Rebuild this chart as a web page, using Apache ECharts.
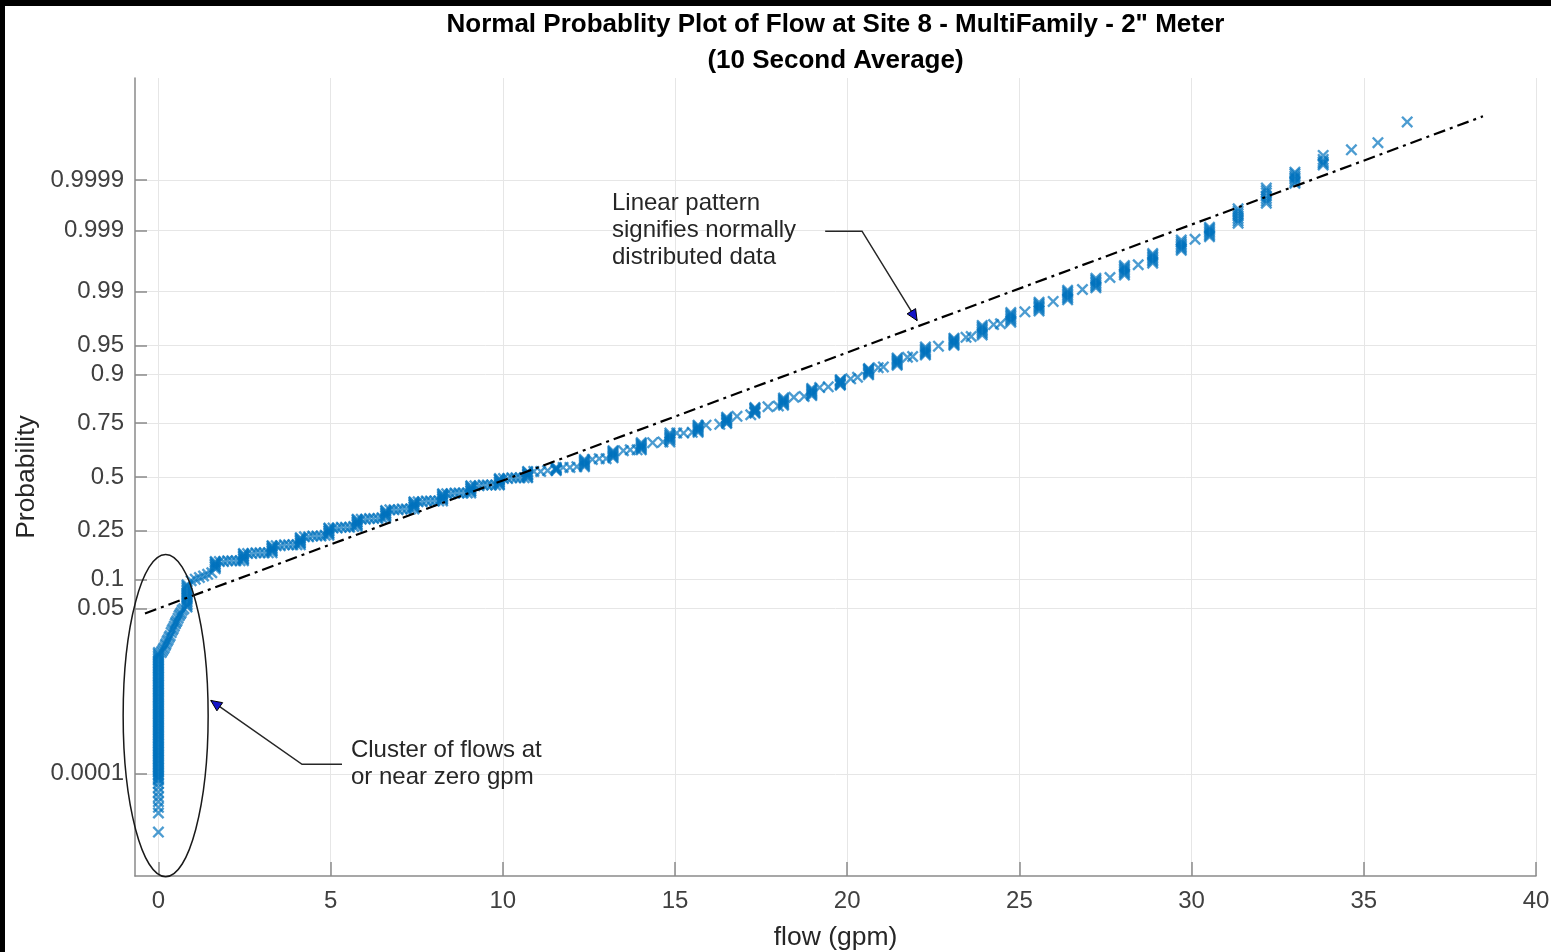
<!DOCTYPE html>
<html>
<head>
<meta charset="utf-8">
<title>Normal Probablity Plot of Flow at Site 8</title>
<script src="https://cdn.jsdelivr.net/npm/echarts/dist/echarts.min.js"></script>
<style>
  html, body { margin: 0; padding: 0; background: #000; width: 1551px; height: 952px; overflow: hidden; }
  #chart { position: absolute; left: 5px; top: 6px; width: 1546px; height: 946px; background: #fff; }
</style>
</head>
<body>
<div id="chart"></div>
<script>
// ---- axis ticks ----
const xTicks = [0, 5, 10, 15, 20, 25, 30, 35, 40];
const probTicks = ['0.0001', '0.05', '0.1', '0.25', '0.5', '0.75', '0.9', '0.95', '0.99', '0.999', '0.9999'];

// ---- observations ----
// Flow levels (gpm) where many 10-second averages coincide ...
const levelFlows = [
  0, 0.83, 1.65, 2.47, 3.30, 4.12, 4.95, 5.77, 6.60, 7.42, 8.25, 9.07, 9.90,
  10.72, 11.55, 12.37, 13.20, 14.02, 14.85, 15.67, 16.50, 17.32, 18.15, 18.97,
  19.80, 20.62, 21.45, 22.27, 23.10, 23.92, 24.75, 25.57, 26.40, 27.22, 28.05,
  28.87, 29.70, 30.52, 31.35, 32.17, 33.00, 33.82, 34.64, 35.41, 36.26
];
// ... and the standard normal quantiles of the readings at each level
const levelQuantiles = [
  [-4.45, -4.21, -4.14, -4.07, -4.01, -3.95, -3.89, -3.84,
   -3.80, -3.78, -3.76, -3.74, -3.72, -3.70, -3.68, -3.66, -3.64, -3.62, -3.60, -3.58,
   -3.56, -3.54, -3.52, -3.50, -3.48, -3.46, -3.44, -3.42, -3.40, -3.38, -3.36, -3.34,
   -3.32, -3.30, -3.28, -3.26, -3.24, -3.22, -3.20, -3.18, -3.16, -3.14, -3.12, -3.10,
   -3.08, -3.06, -3.04, -3.02, -3.00, -2.98, -2.96, -2.94, -2.92, -2.90, -2.88, -2.86,
   -2.84, -2.82, -2.80, -2.78, -2.76, -2.74, -2.72, -2.70, -2.68, -2.66, -2.64, -2.62,
   -2.60, -2.58, -2.56, -2.54, -2.52, -2.50, -2.48, -2.46, -2.44, -2.42, -2.40, -2.38,
   -2.36, -2.34, -2.32, -2.30, -2.28, -2.26, -2.24, -2.22, -2.20],
  [-1.63, -1.61, -1.59, -1.57, -1.55, -1.53, -1.51, -1.49, -1.47, -1.45, -1.43, -1.41, -1.39, -1.37, -1.35],
  [-1.15, -1.13, -1.12, -1.10, -1.09, -1.07, -1.06],
  [-1.05, -1.03, -1.02, -1.00, -0.99, -0.97, -0.96],
  [-0.95, -0.93, -0.92, -0.90, -0.89, -0.87, -0.86],
  [-0.85, -0.83, -0.82, -0.80, -0.79, -0.77, -0.76],
  [-0.73, -0.71, -0.70, -0.68, -0.67, -0.65, -0.64],
  [-0.62, -0.60, -0.59, -0.57, -0.56, -0.54, -0.53],
  [-0.51, -0.49, -0.48, -0.46, -0.45, -0.43, -0.42],
  [-0.40, -0.38, -0.37, -0.35, -0.34, -0.32, -0.31],
  [-0.30, -0.28, -0.27, -0.25, -0.24, -0.22, -0.21],
  [-0.20, -0.18, -0.17, -0.15, -0.14, -0.12, -0.11],
  [-0.10, -0.09, -0.07, -0.06, -0.04, -0.03, -0.02],
  [-0.01, 0.00, 0.02, 0.03, 0.04, 0.06, 0.07],
  [0.08, 0.09, 0.10, 0.11, 0.12],
  [0.13, 0.145, 0.16, 0.175, 0.19, 0.205, 0.22],
  [0.24, 0.255, 0.27, 0.285, 0.30, 0.315, 0.33],
  [0.34, 0.355, 0.37, 0.385, 0.40, 0.415, 0.43],
  [0.44, 0.46, 0.48, 0.495, 0.51, 0.53, 0.55],
  [0.56, 0.575, 0.59, 0.605, 0.62, 0.635, 0.65],
  [0.67, 0.68, 0.695, 0.71, 0.72, 0.735, 0.75],
  [0.80, 0.81, 0.82, 0.835, 0.85, 0.86, 0.87],
  [0.90, 0.915, 0.93, 0.945, 0.96, 0.975, 0.99],
  [1.02, 1.035, 1.05, 1.065, 1.08, 1.095, 1.11],
  [1.15, 1.16, 1.17, 1.185, 1.20, 1.21, 1.22],
  [1.28, 1.295, 1.31, 1.325, 1.34, 1.35, 1.36],
  [1.40, 1.415, 1.43, 1.445, 1.46, 1.475, 1.49],
  [1.53, 1.545, 1.56, 1.575, 1.59, 1.61, 1.63],
  [1.65, 1.665, 1.68, 1.695, 1.71, 1.725, 1.74],
  [1.78, 1.80, 1.82, 1.84, 1.86, 1.88, 1.90],
  [1.94, 1.96, 1.98, 2.00, 2.02, 2.04, 2.06],
  [2.08, 2.10, 2.12, 2.135, 2.15, 2.17, 2.19],
  [2.22, 2.24, 2.26, 2.28, 2.30, 2.32, 2.34],
  [2.37, 2.39, 2.41, 2.43, 2.45, 2.47, 2.49],
  [2.53, 2.55, 2.57, 2.59, 2.61, 2.63, 2.65],
  [2.68, 2.70, 2.72, 2.74, 2.76, 2.78, 2.80],
  [2.84, 2.86, 2.88, 2.90, 2.92, 2.945, 2.97],
  [3.01, 3.03, 3.05, 3.07, 3.09, 3.11, 3.13],
  [3.18, 3.21, 3.24, 3.27, 3.30, 3.33, 3.36],
  [3.43, 3.46, 3.49, 3.52, 3.56, 3.59, 3.62],
  [3.68, 3.70, 3.73, 3.75, 3.77, 3.80, 3.82],
  [3.91, 3.93, 3.95, 3.98, 4.03],
  [4.10],
  [4.19],
  [4.45]
];
// Readings that fall between the levels: [flow (gpm), normal quantile]
const betweenPts = [
  [0.08, -2.20], [0.11, -2.18], [0.14, -2.16], [0.17, -2.14], [0.20, -2.11], [0.22, -2.09],
  [0.25, -2.06], [0.28, -2.04], [0.31, -2.01], [0.34, -1.99], [0.37, -1.95], [0.40, -1.92],
  [0.43, -1.90], [0.46, -1.87], [0.49, -1.84], [0.51, -1.82], [0.54, -1.80], [0.57, -1.77],
  [0.60, -1.74], [0.63, -1.72], [0.66, -1.70], [0.69, -1.67], [0.74, -1.65],
  [0.95, -1.30], [1.07, -1.28], [1.19, -1.26], [1.31, -1.24], [1.43, -1.22], [1.55, -1.20],
  [1.77, -1.06], [1.89, -1.06], [2.01, -1.05], [2.13, -1.05], [2.25, -1.05], [2.37, -1.05],
  [2.59, -0.96], [2.71, -0.96], [2.83, -0.95], [2.95, -0.95], [3.07, -0.95], [3.19, -0.95],
  [3.42, -0.86], [3.54, -0.86], [3.66, -0.85], [3.78, -0.85], [3.90, -0.85], [4.02, -0.85],
  [4.24, -0.75], [4.36, -0.75], [4.48, -0.74], [4.60, -0.74], [4.72, -0.74], [4.84, -0.73],
  [5.07, -0.64], [5.19, -0.64], [5.31, -0.63], [5.43, -0.63], [5.55, -0.63], [5.67, -0.62],
  [5.89, -0.53], [6.01, -0.53], [6.13, -0.52], [6.25, -0.52], [6.37, -0.52], [6.49, -0.51],
  [6.72, -0.41], [6.84, -0.41], [6.96, -0.41], [7.08, -0.40], [7.20, -0.40], [7.32, -0.40],
  [7.54, -0.31], [7.66, -0.31], [7.78, -0.30], [7.90, -0.30], [8.02, -0.30], [8.14, -0.30],
  [8.37, -0.21], [8.49, -0.21], [8.61, -0.20], [8.73, -0.20], [8.85, -0.20], [8.97, -0.20],
  [9.19, -0.11], [9.31, -0.11], [9.43, -0.10], [9.55, -0.10], [9.67, -0.10], [9.79, -0.10],
  [10.02, -0.02], [10.14, -0.02], [10.26, -0.01], [10.38, -0.01], [10.50, -0.01], [10.62, -0.01],
  [10.90, 0.07], [11.10, 0.07], [11.30, 0.08],
  [11.75, 0.12], [11.95, 0.12], [12.15, 0.13],
  [12.60, 0.22], [12.80, 0.23], [13.00, 0.23],
  [13.50, 0.33], [13.70, 0.34], [13.90, 0.34],
  [14.35, 0.43], [14.65, 0.44],
  [15.05, 0.55], [15.25, 0.55], [15.50, 0.56],
  [15.90, 0.65], [16.30, 0.66],
  [16.80, 0.76], [17.20, 0.78],
  [17.70, 0.88], [18.00, 0.89],
  [18.45, 1.00], [18.75, 1.01],
  [19.20, 1.12], [19.45, 1.13],
  [20.10, 1.23], [20.30, 1.25],
  [20.90, 1.37], [21.05, 1.38],
  [21.75, 1.50], [21.90, 1.51],
  [22.65, 1.64],
  [23.45, 1.75], [23.60, 1.76],
  [24.25, 1.91], [24.45, 1.92],
  [25.16, 2.07], [25.98, 2.20], [26.83, 2.35], [27.63, 2.50], [28.45, 2.66], [30.10, 2.98]
];
// Reference line through the quartiles: [flow, quantile] end points
const refLine = [[-0.39, -1.71], [38.46, 4.52]];

// ---- annotations (anchored in data coordinates) ----
const linearNote = ['Linear pattern', 'signifies normally', 'distributed data'];
const linearNoteAt = [13.17, 3.60];
const linearArrow = [[19.36, 3.08], [20.43, 3.08], [22.03, 1.96]];
const clusterNote = ['Cluster of flows at', 'or near zero gpm'];
const clusterNoteAt = [5.59, -3.257];
const clusterArrow = [[5.33, -3.60], [4.17, -3.60], [1.52, -2.80]];
const clusterEllipse = { center: [0.21, -2.99], rx: 1.234, ry: 2.018 };

const FONT = '"Liberation Sans", Arial, Helvetica, sans-serif';
// 'x' marker outline
const X_MARK = 'path://M0,14L14,0L50,36L86,0L100,14L64,50L100,86L86,100L50,64L14,100L0,86L36,50Z';

// inverse of the standard normal CDF (Acklam), used to place probability ticks
function normInv(p) {
  const a = [-3.969683028665376e+01, 2.209460984245205e+02, -2.759285104469687e+02, 1.383577518672690e+02, -3.066479806614716e+01, 2.506628277459239e+00];
  const b = [-5.447609879822406e+01, 1.615858368580409e+02, -1.556989798598866e+02, 6.680131188771972e+01, -1.328068155288572e+01];
  const c = [-7.784894002430293e-03, -3.223964580411365e-01, -2.400758277161838e+00, -2.549671348191381e+00, 4.374664141464968e+00, 2.938163982698783e+00];
  const d = [7.784695709041462e-03, 3.224671290700398e-01, 2.445134137142996e+00, 3.754408661907416e+00];
  const plow = 0.02425, phigh = 1 - plow;
  let q, r;
  if (p < plow) {
    q = Math.sqrt(-2 * Math.log(p));
    return (((((c[0]*q+c[1])*q+c[2])*q+c[3])*q+c[4])*q+c[5]) / ((((d[0]*q+d[1])*q+d[2])*q+d[3])*q+1);
  }
  if (p <= phigh) {
    q = p - 0.5; r = q * q;
    return (((((a[0]*r+a[1])*r+a[2])*r+a[3])*r+a[4])*r+a[5])*q / (((((b[0]*r+b[1])*r+b[2])*r+b[3])*r+b[4])*r+1);
  }
  q = Math.sqrt(-2 * Math.log(1 - p));
  return -(((((c[0]*q+c[1])*q+c[2])*q+c[3])*q+c[4])*q+c[5]) / ((((d[0]*q+d[1])*q+d[2])*q+d[3])*q+1);
}
const yTickZ = probTicks.map(s => normInv(parseFloat(s)));
function probLabel(v) {
  const i = yTickZ.findIndex(z => Math.abs(z - v) < 1e-4);
  return i >= 0 ? probTicks[i] : '';
}

const points = [];
levelFlows.forEach((f, i) => levelQuantiles[i].forEach(q => points.push([f, q])));
betweenPts.forEach(p => points.push(p));

const axisGrey = '#8a8a8a';
const chart = echarts.init(document.getElementById('chart'), null, { renderer: 'canvas' });
chart.setOption({
  animation: false,
  backgroundColor: '#fff',
  title: {
    text: 'Normal Probablity Plot of Flow at Site 8 - MultiFamily - 2" Meter\n(10 Second Average)',
    left: 830.5, top: 1, padding: 0, textAlign: 'center',
    textStyle: { fontFamily: FONT, fontSize: 26, fontWeight: 'bold', color: '#000', lineHeight: 36 }
  },
  grid: { left: 130, right: 15, top: 72, bottom: 76, containLabel: false, outerBoundsMode: 'none' },
  xAxis: {
    type: 'value', min: -0.68, max: 40,
    axisLine: { show: true, onZero: false, lineStyle: { color: axisGrey, width: 1.5 } },
    axisTick: { show: true, inside: true, length: 14, customValues: xTicks, lineStyle: { color: axisGrey, width: 1.5 } },
    axisLabel: { customValues: xTicks, margin: 13, fontSize: 24, color: '#404040', fontFamily: FONT },
    splitLine: { show: true, lineStyle: { color: '#e6e6e6', width: 1 } },
    name: 'flow (gpm)', nameLocation: 'middle', nameGap: 48,
    nameTextStyle: { fontSize: 26.5, color: '#262626', fontFamily: FONT }
  },
  yAxis: {
    type: 'value', min: -5, max: 5,
    axisLine: { show: true, onZero: false, lineStyle: { color: axisGrey, width: 1.5 } },
    axisTick: { show: true, inside: true, length: 12, customValues: yTickZ, lineStyle: { color: axisGrey, width: 1.5 } },
    axisLabel: { customValues: yTickZ, formatter: probLabel, margin: 11, fontSize: 24, color: '#404040', fontFamily: FONT },
    splitLine: { show: true, lineStyle: { color: '#e6e6e6', width: 1 } },
    name: 'Probability', nameLocation: 'middle', nameGap: 93, nameRotate: 90,
    nameTextStyle: { fontSize: 26.5, color: '#262626', fontFamily: FONT }
  },
  series: [
    {
      type: 'scatter', data: points, symbol: X_MARK, symbolSize: 12,
      itemStyle: { color: '#0072BD', opacity: 0.7 }, silent: true, z: 3
    },
    {
      type: 'line', data: refLine, symbol: 'none', silent: true, z: 4,
      lineStyle: { color: '#000', width: 2.2, type: [12, 5, 3, 5] }
    }
  ]
});

// annotation layer
const toPx = p => chart.convertToPixel({ gridIndex: 0 }, p);
function arrowShapes(pts) {
  const px = pts.map(toPx);
  const tip = px[px.length - 1], prev = px[px.length - 2];
  const dx = tip[0] - prev[0], dy = tip[1] - prev[1];
  const len = Math.hypot(dx, dy), ux = dx / len, uy = dy / len;
  const L = 11, W = 5;
  const bx = tip[0] - ux * L, by = tip[1] - uy * L;
  return [
    { type: 'polyline', shape: { points: px }, style: { stroke: '#262626', lineWidth: 1.5, fill: null }, z: 10 },
    { type: 'polygon', shape: { points: [tip, [bx - uy * W, by + ux * W], [bx + uy * W, by - ux * W]] },
      style: { fill: '#1414c8', stroke: '#000', lineWidth: 1 }, z: 11 }
  ];
}
function note(lines, at) {
  const p = toPx(at);
  return { type: 'text', x: p[0], y: p[1], z: 10,
    style: { text: lines.join('\n'), font: '24px ' + FONT, fill: '#262626', lineHeight: 27, align: 'left', verticalAlign: 'top' } };
}
const ec = toPx(clusterEllipse.center);
const erx = toPx([clusterEllipse.center[0] + clusterEllipse.rx, clusterEllipse.center[1]])[0] - ec[0];
const ery = ec[1] - toPx([clusterEllipse.center[0], clusterEllipse.center[1] + clusterEllipse.ry])[1];
chart.setOption({
  graphic: [
    { type: 'ellipse', shape: { cx: ec[0], cy: ec[1], rx: erx, ry: ery }, style: { fill: null, stroke: '#1a1a1a', lineWidth: 1.5 }, z: 10 },
    ...arrowShapes(linearArrow),
    ...arrowShapes(clusterArrow),
    note(linearNote, linearNoteAt),
    note(clusterNote, clusterNoteAt)
  ]
});
</script>
</body>
</html>
